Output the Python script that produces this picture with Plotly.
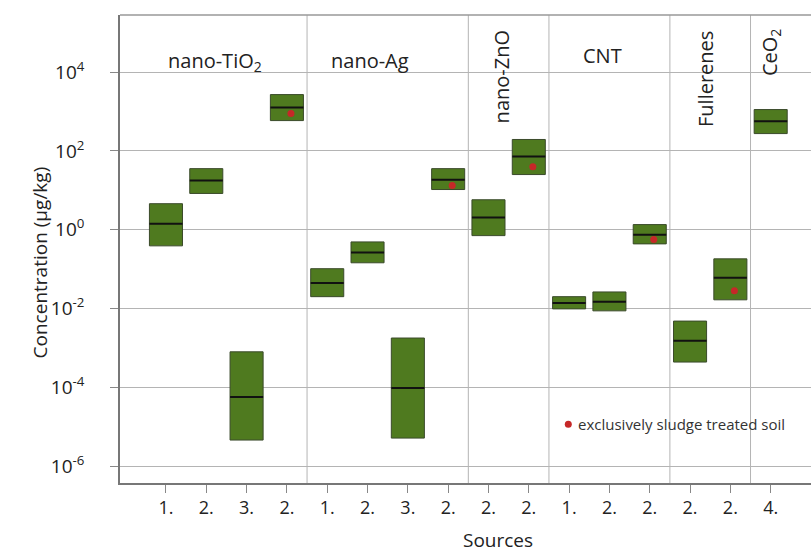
import plotly.graph_objects as go
import numpy as np

# ---------------- data ----------------
tick_labels = ["1.", "2.", "3.", "2.", "1.", "2.", "3.", "2.", "2.", "2.", "1.", "2.", "2.", "2.", "2.", "4."]
groups = ["nano-TiO<sub>2</sub>", "nano-Ag", "nano-ZnO", "CNT", "Fullerenes", "CeO<sub>2</sub>"]
group_sizes = [4, 4, 2, 3, 2, 1]
# log10 of concentration (µg/kg)
box_low = [-0.41, 0.92, -5.34, 2.77, -1.70, -0.84, -5.29, 1.02, -0.15, 1.40, -2.01, -2.06, -0.36, -3.36, -1.78, 2.44]
box_high = [0.66, 1.55, -3.10, 3.43, -0.99, -0.31, -2.75, 1.55, 0.76, 2.29, -1.70, -1.58, 0.13, -2.32, -0.74, 3.05]
box_median = [0.15, 1.25, -4.25, 3.10, -1.35, -0.58, -4.02, 1.27, 0.31, 1.86, -1.86, -1.83, -0.13, -2.82, -1.22, 2.75]
sludge_idx = [3, 7, 9, 12, 14]
sludge_val = [2.95, 1.12, 1.60, -0.25, -1.55]
ytick_exp = [-6, -4, -2, 0, 2, 4]

GREEN = "#4f7a1f"
RED = "#c62828"
GRID = "#b4b4b4"
FONT = "Open Sans"
TXT = "#222222"

x = np.arange(len(tick_labels))
bw = 0.41

fig = go.Figure()
shapes = []
for i in range(len(tick_labels)):
    shapes.append(dict(type="rect", xref="x", yref="y",
                       x0=x[i] - bw, x1=x[i] + bw,
                       y0=10 ** box_low[i], y1=10 ** box_high[i],
                       fillcolor=GREEN, line=dict(color="#3a4a2a", width=1), layer="between"))
    shapes.append(dict(type="line", xref="x", yref="y",
                       x0=x[i] - bw, x1=x[i] + bw,
                       y0=10 ** box_median[i], y1=10 ** box_median[i],
                       line=dict(color="#111111", width=2), layer="between"))

# group separators
edge = -0.5
for s in group_sizes[:-1]:
    edge += s
    shapes.append(dict(type="line", xref="x", yref="paper", x0=edge, x1=edge, y0=0, y1=1,
                       line=dict(color=GRID, width=1), layer="below"))
# top border
shapes.append(dict(type="line", xref="paper", yref="paper", x0=0, x1=1, y0=1, y1=1,
                   line=dict(color="#999999", width=1.5)))

fig.add_trace(go.Scatter(
    x=[x[i] + 0.1 for i in sludge_idx], y=[10 ** v for v in sludge_val],
    mode="markers", marker=dict(color=RED, size=7), showlegend=False, hoverinfo="skip"))

# legend-like marker
fig.add_trace(go.Scatter(x=[9.98], y=[10 ** -4.94], mode="markers",
                         marker=dict(color=RED, size=7), showlegend=False, hoverinfo="skip"))

HF = 20
annotations = [
    dict(x=10.18, y=-4.94, xref="x", yref="y", text="exclusively sludge treated soil",
         showarrow=False, xanchor="left", yanchor="middle", font=dict(size=15, color="#333")),
    dict(x=1.22, y=0.936, xref="x", yref="paper", text=groups[0], showarrow=False,
         font=dict(size=HF, color=TXT)),
    dict(x=5.06, y=0.936, xref="x", yref="paper", text=groups[1], showarrow=False,
         font=dict(size=HF, color=TXT)),
    dict(x=8.33, y=0.972, xref="x", yref="paper", text=groups[2], showarrow=False,
         textangle=-90, yanchor="top", font=dict(size=HF, color=TXT)),
    dict(x=10.82, y=0.947, xref="x", yref="paper", text=groups[3], showarrow=False,
         font=dict(size=HF, color=TXT)),
    dict(x=13.37, y=0.970, xref="x", yref="paper", text=groups[4], showarrow=False,
         textangle=-90, yanchor="top", font=dict(size=HF, color=TXT)),
    dict(x=14.98, y=0.975, xref="x", yref="paper", text=groups[5], showarrow=False,
         textangle=-90, yanchor="top", font=dict(size=HF, color=TXT)),
    dict(x=-0.137, y=0.472, xref="paper", yref="paper", text="Concentration (µg/kg)",
         showarrow=False, textangle=-90, font=dict(size=19, color=TXT)),
    dict(x=(498 - 120) / 691, y=-0.089, xref="paper", yref="paper", text="Sources",
         showarrow=False, yanchor="top", font=dict(size=19, color=TXT)),
]

fig.update_layout(
    width=811, height=550,
    margin=dict(l=120, r=0, t=15, b=67),
    plot_bgcolor="white", paper_bgcolor="white",
    font=dict(family=FONT, color=TXT),
    shapes=shapes, annotations=annotations, showlegend=False,
    xaxis=dict(range=[-1.14, 16.0], tickvals=list(x), ticktext=tick_labels,
               showgrid=False, zeroline=False, ticks="outside", ticklen=8, tickcolor="#888",
               showline=True, linecolor="#777", linewidth=1.5,
               tickfont=dict(size=18, color=TXT)),
    yaxis=dict(type="log", range=[-6.43, 5.45],
               tickvals=[10 ** e for e in ytick_exp],
               ticktext=[f"10<sup>{e}</sup>" for e in ytick_exp],
               showgrid=True, gridcolor=GRID, gridwidth=1, zeroline=False,
               ticks="outside", ticklen=8, tickcolor="#888",
               showline=True, linecolor="#777", linewidth=1.5,
               ticklabelstandoff=22,
               tickfont=dict(size=19, color=TXT)),
)

fig.write_html("out.html")
